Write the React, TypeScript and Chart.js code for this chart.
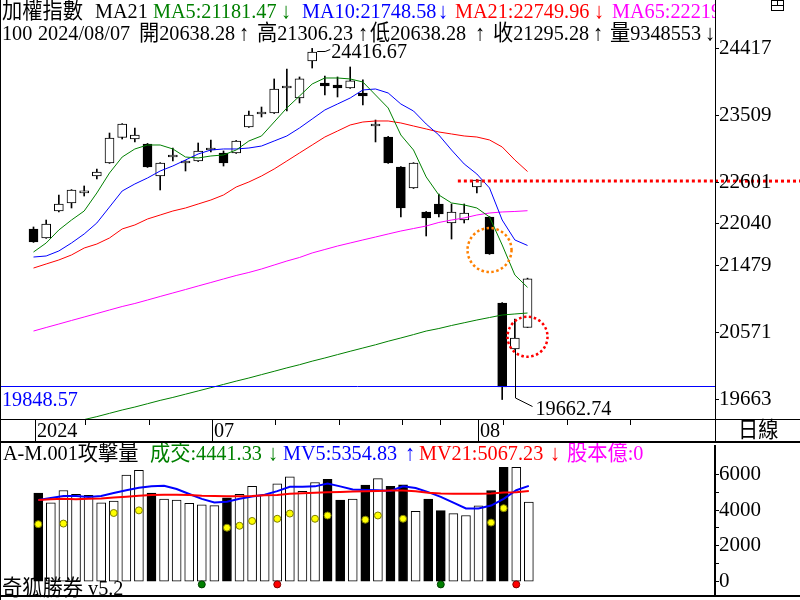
import React, { useEffect, useRef } from 'react';
import { Chart, registerables } from 'chart.js';
Chart.register(...registerables);

// ---------------- data ----------------
const dates = ['2024-06-11','2024-06-12','2024-06-13','2024-06-14','2024-06-17','2024-06-18','2024-06-19','2024-06-20','2024-06-21','2024-06-24','2024-06-25','2024-06-26','2024-06-27','2024-06-28','2024-07-01','2024-07-02','2024-07-03','2024-07-04','2024-07-05','2024-07-08','2024-07-09','2024-07-10','2024-07-11','2024-07-12','2024-07-15','2024-07-16','2024-07-17','2024-07-18','2024-07-19','2024-07-22','2024-07-23','2024-07-26','2024-07-29','2024-07-30','2024-07-31','2024-08-01','2024-08-02','2024-08-05','2024-08-06','2024-08-07'];
const futureDates = ['2024-08-08','2024-08-09','2024-08-12','2024-08-13','2024-08-14','2024-08-15','2024-08-16','2024-08-19','2024-08-20','2024-08-21','2024-08-22','2024-08-23'];

const opens = [21972,21850,22215,22324,22460,22689,22865,23210,23190,23122,22689,22946,22865,22892,23042,23001,23001,23353,23529,23542,23881,23745,24246,23948,23921,23880,23813,23367,23217,22811,22527,22202,22310,22053,22093,22540,22134,20970,20347,20638.28];
const highs = [21999,22093,22432,22505,22554,22784,23271,23398,23339,23130,22870,23068,22897,23136,23177,23028,23170,23569,23623,24003,24138,24030,24416.67,24043,24030,24165,23990,23447,23225,22818,22870,22208,22445,22310,22310,22640,22140,20975,20753,21306.23];
const lows = [21790,21845,22202,22256,22418,22649,22860,23190,23150,22805,22500,22892,22757,22885,23014,22824,22995,23348,23488,23535,23569,23678,24151,23786,23759,23875,23651,23150,22860,22134,22520,21877,22134,21836,22053,22459,21628,19662.74,20340,20638.28];
const closes = [21796,22039,22310,22500,22487,22743,23204,23393,23244,22811,22865,22974,22892,23028,23068,22865,23163,23515,23555,23867,23907,24003,24368,23908,23880,23976,23772,23393,22865,22256,22865,22121,22175,22202,22188,22635,21633,19832,20496,21295.28];

const ma5 = [21660,21782,21958,22093,22215,22459,22730,22946,23055,23109,23109,23055,22946,22933,22960,22974,23041,23163,23231,23420,23610,23772,23935,24016,24016,24003,23962,23786,23610,23244,23041,22676,22432,22324,22297,22256,22134,21755,21349,21181.47];
const ma10 = [21592,21606,21674,21782,21904,22053,22269,22486,22581,22662,22757,22825,22906,22987,23041,23055,23055,23068,23095,23163,23231,23339,23461,23583,23664,23745,23854,23867,23813,23664,23569,23393,23244,23041,22852,22716,22527,22093,21823,21748.58];
const ma21 = [21443,21498,21552,21620,21714,21768,21850,21972,22026,22107,22161,22215,22256,22310,22364,22432,22540,22608,22689,22784,22892,23001,23109,23217,23298,23380,23420,23434,23434,23407,23366,23326,23285,23258,23231,23217,23177,23082,22906,22749.96];
const ma65 = [20590,20638,20685,20733,20780,20827,20875,20922,20963,21010,21058,21105,21152,21200,21247,21295,21342,21383,21430,21484,21538,21586,21647,21694,21741,21782,21823,21863,21904,21944,21978,22012,22060,22093,22121,22161,22188,22202,22209,22219];
const maLong = [19216,19264,19304,19345,19391,19431,19476,19521,19561,19606,19651,19691,19735,19779,19823,19867,19912,19954,20000,20045,20091,20134,20182,20225,20271,20316,20360,20404,20452,20496,20542,20590,20624,20665,20702,20739,20773,20807,20821,20834];

const volumes = [4952,4413,5097,4882,4828,4413,4505,5958,6227,4952,4612,4559,4376,4290,4252,4682,4882,5328,4828,5474,5867,5043,5544,5721,4559,4612,5398,5759,5328,5420,3929,4612,3967,3805,3698,4236,5097,6400,6400,4441.33];
const mv5 = [4559,4682,4790,4790,4736,4790,4952,5113,5248,5328,5366,5183,4898,4629,4430,4467,4629,4763,4860,5059,5301,5312,5328,5490,5328,5151,5129,5113,5075,5328,5237,5005,4736,4413,4090,4090,4252,4629,5113,5354.83];
const mv21 = [4559,4612,4629,4612,4629,4655,4699,4747,4806,4844,4855,4860,4844,4801,4790,4779,4774,4790,4833,4849,4908,4941,4968,4995,5016,5043,5059,5075,5097,5097,5059,4968,4925,4914,4914,4914,4925,4978,5005,5067.23];
const attackDots = [3213,null,3245,null,null,null,3837,null,3983,null,null,null,null,null,null,3014,3122,3391,null,3514,3805,null,3514,3697,null,null,3461,3697,null,3514,null,null,null,null,null,null,3299,4107,null,null];
const buySignalDates = ['2024-06-28','2024-07-29'];
const sellSignalDates = ['2024-07-08','2024-08-06'];

const priceTicks = [19663, 20571, 21479, 22040, 22601, 23509, 24417];
const volumeTicks = [0, 1000, 2000, 3000, 4000, 5000, 6000];
const volumeLabelTicks = [0, 2000, 4000, 6000];
const supportLevel = 19848.57;
const resistanceLevel = 22620;
const periodHigh = 24416.67;
const periodLow = 19662.74;
const dayVolumeText = '9348553';
const capitalText = '0';

// ---------------- helpers ----------------
const N = dates.length;
const X_MIN = -2.645;
const X_MAX = 53.8;
const FONT = '"Liberation Serif", "Noto Sans CJK TC", serif';
const GREEN = '#008000', BLUE = '#0000ff', RED = '#ff0000', MAG = '#ff00ff';

function drawText(ctx: CanvasRenderingContext2D, s: string, x: number, y: number, color: string, size = 22, sx = 0.92) {
  ctx.save();
  ctx.font = `${size}px ${FONT}`;
  ctx.fillStyle = color;
  ctx.textAlign = 'left';
  ctx.textBaseline = 'alphabetic';
  ctx.translate(x, y);
  ctx.scale(sx, 1);
  ctx.fillText(s, 0, 0);
  ctx.restore();
}

function dottedCircle(ctx: CanvasRenderingContext2D, cx: number, cy: number, r: number, color: string) {
  ctx.save();
  ctx.strokeStyle = color;
  ctx.lineWidth = 2.5;
  ctx.setLineDash([2.5, 2.5]);
  ctx.beginPath();
  ctx.arc(cx, cy, r, 0, Math.PI * 2);
  ctx.stroke();
  ctx.restore();
}

const xy = (arr: (number | null)[]) => arr.map((v, i) => ({ x: i, y: v })).filter(p => p.y !== null);
const lineDs = (data: number[], color: string, width: number, order: number) => ({
  type: 'line', data: xy(data), borderColor: color, borderWidth: width, pointRadius: 0,
  tension: 0, fill: false, order,
});
const upDay = (i: number) => closes[i] >= opens[i];
const f2 = (v: number) => v.toFixed(2);

const baseXScale = { type: 'linear', min: X_MIN, max: X_MAX, display: false, offset: false, bounds: 'data', grid: { offset: false } };
const yAxisCommon = (border: number) => ({
  position: 'right',
  afterFit: (s: any) => { s.width = 85; s.paddingTop = 0; s.paddingBottom = 0; },
  grid: { display: true, drawOnChartArea: false, drawTicks: true, tickLength: 4, color: '#000', tickColor: '#000', lineWidth: 1 },
  border: { display: true, color: '#000', width: border },
});

// ---------------- main chart plugin ----------------
const mainPlugin = {
  id: 'mainDecor',
  beforeDraw(chart: any) {
    const { ctx, scales: { y }, chartArea } = chart;
    const yy = y.getPixelForValue(resistanceLevel);
    ctx.save();
    ctx.strokeStyle = RED; ctx.lineWidth = 3; ctx.setLineDash([3, 3]);
    ctx.beginPath(); ctx.moveTo(chartArea.right, yy); ctx.lineTo(800, yy); ctx.stroke();
    ctx.restore();
  },
  afterDatasetsDraw(chart: any) {
    const { ctx, scales: { x, y }, chartArea } = chart;
    ctx.save();
    ctx.beginPath(); ctx.rect(chartArea.left, chartArea.top, chartArea.right - chartArea.left, chartArea.bottom - chartArea.top); ctx.clip();
    const yy = y.getPixelForValue(resistanceLevel);
    ctx.strokeStyle = RED; ctx.lineWidth = 3; ctx.setLineDash([3, 3]);
    ctx.beginPath(); ctx.moveTo(x.getPixelForValue(33.5), yy); ctx.lineTo(chartArea.right, yy); ctx.stroke();
    ctx.setLineDash([]);
    const ys = Math.round(y.getPixelForValue(supportLevel)) + 0.5;
    ctx.strokeStyle = BLUE; ctx.lineWidth = 1;
    ctx.beginPath(); ctx.moveTo(chartArea.left, ys); ctx.lineTo(chartArea.right, ys); ctx.stroke();
    ctx.restore();
    drawText(ctx, supportLevel.toFixed(2), 2, ys + 19, BLUE);

    dottedCircle(ctx, x.getPixelForValue(36), y.getPixelForValue(21687), 22, '#ff8000');
    dottedCircle(ctx, x.getPixelForValue(39), y.getPixelForValue(20513), 20, RED);

    const hi = highs.indexOf(periodHigh);
    const hx = x.getPixelForValue(hi), hy = y.getPixelForValue(periodHigh);
    ctx.save();
    ctx.strokeStyle = '#000'; ctx.lineWidth = 1;
    ctx.beginPath(); ctx.moveTo(hx + 5, Math.round(hy + 3) + 0.5); ctx.lineTo(hx + 13, Math.round(hy + 3) + 0.5); ctx.lineTo(hx + 18, Math.round(hy + 1) + 0.5); ctx.stroke();
    ctx.restore();
    drawText(ctx, periodHigh.toFixed(2), hx + 19, hy + 10, '#000');

    const li = lows.indexOf(periodLow) + 1;
    const lx = Math.round(x.getPixelForValue(li)) + 0.5, ly = y.getPixelForValue(periodLow);
    ctx.save();
    ctx.strokeStyle = '#000'; ctx.lineWidth = 1;
    ctx.beginPath(); ctx.moveTo(lx, y.getPixelForValue(opens[li])); ctx.lineTo(lx, ly - 1.5); ctx.lineTo(lx + 17, ly + 7); ctx.stroke();
    ctx.restore();
    drawText(ctx, periodLow.toFixed(2), lx + 20, ly + 15, '#000');
  },
  afterDraw(chart: any) {
    const { ctx, scales: { x }, chartArea } = chart;
    ctx.save();
    ctx.beginPath(); ctx.rect(0, 0, chartArea.right, 60); ctx.clip();
    const L = N - 1;
    const line1: [string, number, string][] = [
      ['加權指數', 2, '#000'], ['MA21', 95, '#000'],
      ['MA5:' + f2(ma5[L]), 153, GREEN], ['↓', 281, GREEN],
      ['MA10:' + f2(ma10[L]), 302, BLUE], ['↓', 438, BLUE],
      ['MA21:' + f2(ma21[L]), 455, RED], ['↓', 594, RED],
      ['MA65:' + String(ma65[L]), 612, MAG],
    ];
    line1.forEach(([s, px, c]) => drawText(ctx, s, px, 18, c));
    const d = dates[L].replace(/-/g, '/');
    const line2: [string, number][] = [
      ['100', 2], [d, 38], ['開' + f2(opens[L]), 139], ['↑', 239],
      ['高' + f2(highs[L]), 257], ['↑', 358], ['低' + f2(lows[L]), 370], ['↑', 475],
      ['收' + f2(closes[L]), 493], ['↑', 593], ['量' + dayVolumeText, 610], ['↓', 705],
    ];
    line2.forEach(([s, px]) => drawText(ctx, s, px, 40, '#000'));
    ctx.restore();

    ctx.fillStyle = '#000';
    ctx.fillRect(0, 0, 1, 441);
    ctx.fillRect(0, chartArea.bottom, 800, 1);
    ctx.fillRect(chartArea.right, chartArea.bottom, 1, 22);

    const all = dates.concat(futureDates);
    const top = chartArea.bottom;
    for (let i = 0; i < all.length; i++) {
      const dt = new Date(all[i] + 'T00:00:00');
      const prev = i > 0 ? new Date(all[i - 1] + 'T00:00:00') : null;
      const px = Math.round(x.getPixelForValue(i) + 1);
      if (px > chartArea.right - 2) continue;
      if (!prev || dt.getMonth() !== prev.getMonth()) {
        ctx.fillRect(px, top, 1, 22);
        const label = i === 0 ? String(dt.getFullYear()) : String(dt.getMonth() + 1).padStart(2, '0');
        drawText(ctx, label, px + 2, top + 18, '#000');
      } else if (dt.getDay() < prev.getDay() || dt.getTime() - prev.getTime() > 6 * 86400000) {
        ctx.fillRect(px, top, 1, 6);
      }
    }
    drawText(ctx, '日線', 738, top + 18, '#000');

    ctx.save();
    ctx.strokeStyle = '#000'; ctx.lineWidth = 1;
    ctx.strokeRect(771.5, 0.5, 12, 10);
    ctx.beginPath(); ctx.moveTo(771.5, 5.5); ctx.lineTo(783.5, 5.5); ctx.moveTo(777.5, 0.5); ctx.lineTo(777.5, 5.5); ctx.stroke();
    ctx.restore();
  },
};

// ---------------- volume chart plugin ----------------
const volPlugin = {
  id: 'volDecor',
  afterDraw(chart: any) {
    const { ctx, chartArea } = chart;
    const L = N - 1;
    const head: [string, number, string][] = [
      ['A-M.001攻擊量', 3, '#000'], ['成交:' + f2(volumes[L]), 150, GREEN], ['↓', 268, GREEN],
      ['MV5:' + f2(mv5[L]), 283, BLUE], ['↑', 405, BLUE],
      ['MV21:' + f2(mv21[L]), 419, RED], ['↓', 550, RED],
      ['股本億:' + capitalText, 567, MAG],
    ];
    head.forEach(([s, px, c]) => drawText(ctx, s, px, 19, c));
    drawText(ctx, '奇狐勝券 v5.2', 2, 154, '#000');
    ctx.fillStyle = '#000';
    ctx.fillRect(0, 0, 800, 2);
    ctx.fillRect(0, chartArea.bottom, 800, 2);
    ctx.fillRect(0, 0, 1, 159);
  },
};

export default function App() {
  const mainRef = useRef<HTMLCanvasElement>(null);
  const volRef = useRef<HTMLCanvasElement>(null);

  useEffect(() => {
    const bodyColors = dates.map((_, i) => (upDay(i) ? '#ffffff' : '#000000'));
    const main = new Chart(mainRef.current as HTMLCanvasElement, {
      type: 'bar',
      data: {
        datasets: [
          { type: 'bar', data: dates.map((_, i) => ({ x: i, y: [lows[i], highs[i]] })), backgroundColor: '#000', borderWidth: 0, barThickness: 1, grouped: false, order: 10 },
          { type: 'bar', data: dates.map((_, i) => ({ x: i, y: [opens[i], closes[i]] })), backgroundColor: bodyColors, borderColor: '#000', borderWidth: 1, borderSkipped: false, barThickness: 9, grouped: false, order: 9 },
          lineDs(maLong, GREEN, 1, 6),
          lineDs(ma65, MAG, 1, 5),
          lineDs(ma21, RED, 1, 4),
          lineDs(ma10, BLUE, 1, 3),
          lineDs(ma5, GREEN, 1, 2),
        ] as any,
      },
      options: {
        responsive: false, maintainAspectRatio: false, animation: false, devicePixelRatio: 1, events: [],
        layout: { padding: { left: 0, right: 0, top: 0, bottom: 22 } },
        plugins: { legend: { display: false }, tooltip: { enabled: false } },
        scales: {
          x: baseXScale,
          y: {
            ...yAxisCommon(1), min: 19399, max: 25072,
            afterBuildTicks: (s: any) => { s.ticks = priceTicks.map(v => ({ value: v })); },
            ticks: { autoSkip: false, color: '#000', padding: 0, font: { family: 'Liberation Serif', size: 21 }, callback: (v: any) => String(v) },
          },
        },
      } as any,
      plugins: [mainPlugin],
    });

    const volColors = dates.map((_, i) => (upDay(i) ? '#ffffff' : '#000000'));
    const sig = (list: string[]) => list.map(d => ({ x: dates.indexOf(d), y: -160 }));
    const vol = new Chart(volRef.current as HTMLCanvasElement, {
      type: 'bar',
      data: {
        datasets: [
          { type: 'bar', data: xy(volumes), backgroundColor: volColors, borderColor: '#000', borderWidth: 1, borderSkipped: false, barThickness: 9, grouped: false, order: 10 },
          lineDs(mv5, BLUE, 2, 4),
          lineDs(mv21, RED, 2, 3),
          { type: 'line', data: xy(attackDots), showLine: false, pointRadius: 3.5, pointBackgroundColor: '#ffff00', pointBorderColor: '#808000', pointBorderWidth: 1, order: 1 },
          { type: 'line', data: sig(buySignalDates), showLine: false, pointRadius: 3.5, pointBackgroundColor: GREEN, pointBorderColor: '#004000', pointBorderWidth: 1, order: 1 },
          { type: 'line', data: sig(sellSignalDates), showLine: false, pointRadius: 3.5, pointBackgroundColor: RED, pointBorderColor: '#800000', pointBorderWidth: 1, order: 1 },
        ] as any,
      },
      options: {
        responsive: false, maintainAspectRatio: false, animation: false, devicePixelRatio: 1, events: [],
        layout: { padding: { left: 0, right: 0, top: 1, bottom: 3 } },
        plugins: { legend: { display: false }, tooltip: { enabled: false } },
        scales: {
          x: baseXScale,
          y: {
            ...yAxisCommon(2), min: -753, max: 7587,
            afterBuildTicks: (s: any) => { s.ticks = volumeTicks.map(v => ({ value: v })); },
            ticks: { autoSkip: false, color: '#000', padding: 0, font: { family: 'Liberation Serif', size: 21 }, callback: (v: any) => (volumeLabelTicks.includes(v) ? String(v) : '') },
          },
        },
      } as any,
      plugins: [volPlugin],
    });

    return () => { main.destroy(); vol.destroy(); };
  }, []);

  return (
    <div style={{ position: 'absolute', left: 0, top: 0, width: 800, height: 600, background: '#fff' }}>
      <canvas ref={mainRef} width={800} height={441} style={{ position: 'absolute', left: 0, top: 0, width: 800, height: 441, display: 'block' }} />
      <canvas ref={volRef} width={800} height={159} style={{ position: 'absolute', left: 0, top: 441, width: 800, height: 159, display: 'block' }} />
    </div>
  );
}
